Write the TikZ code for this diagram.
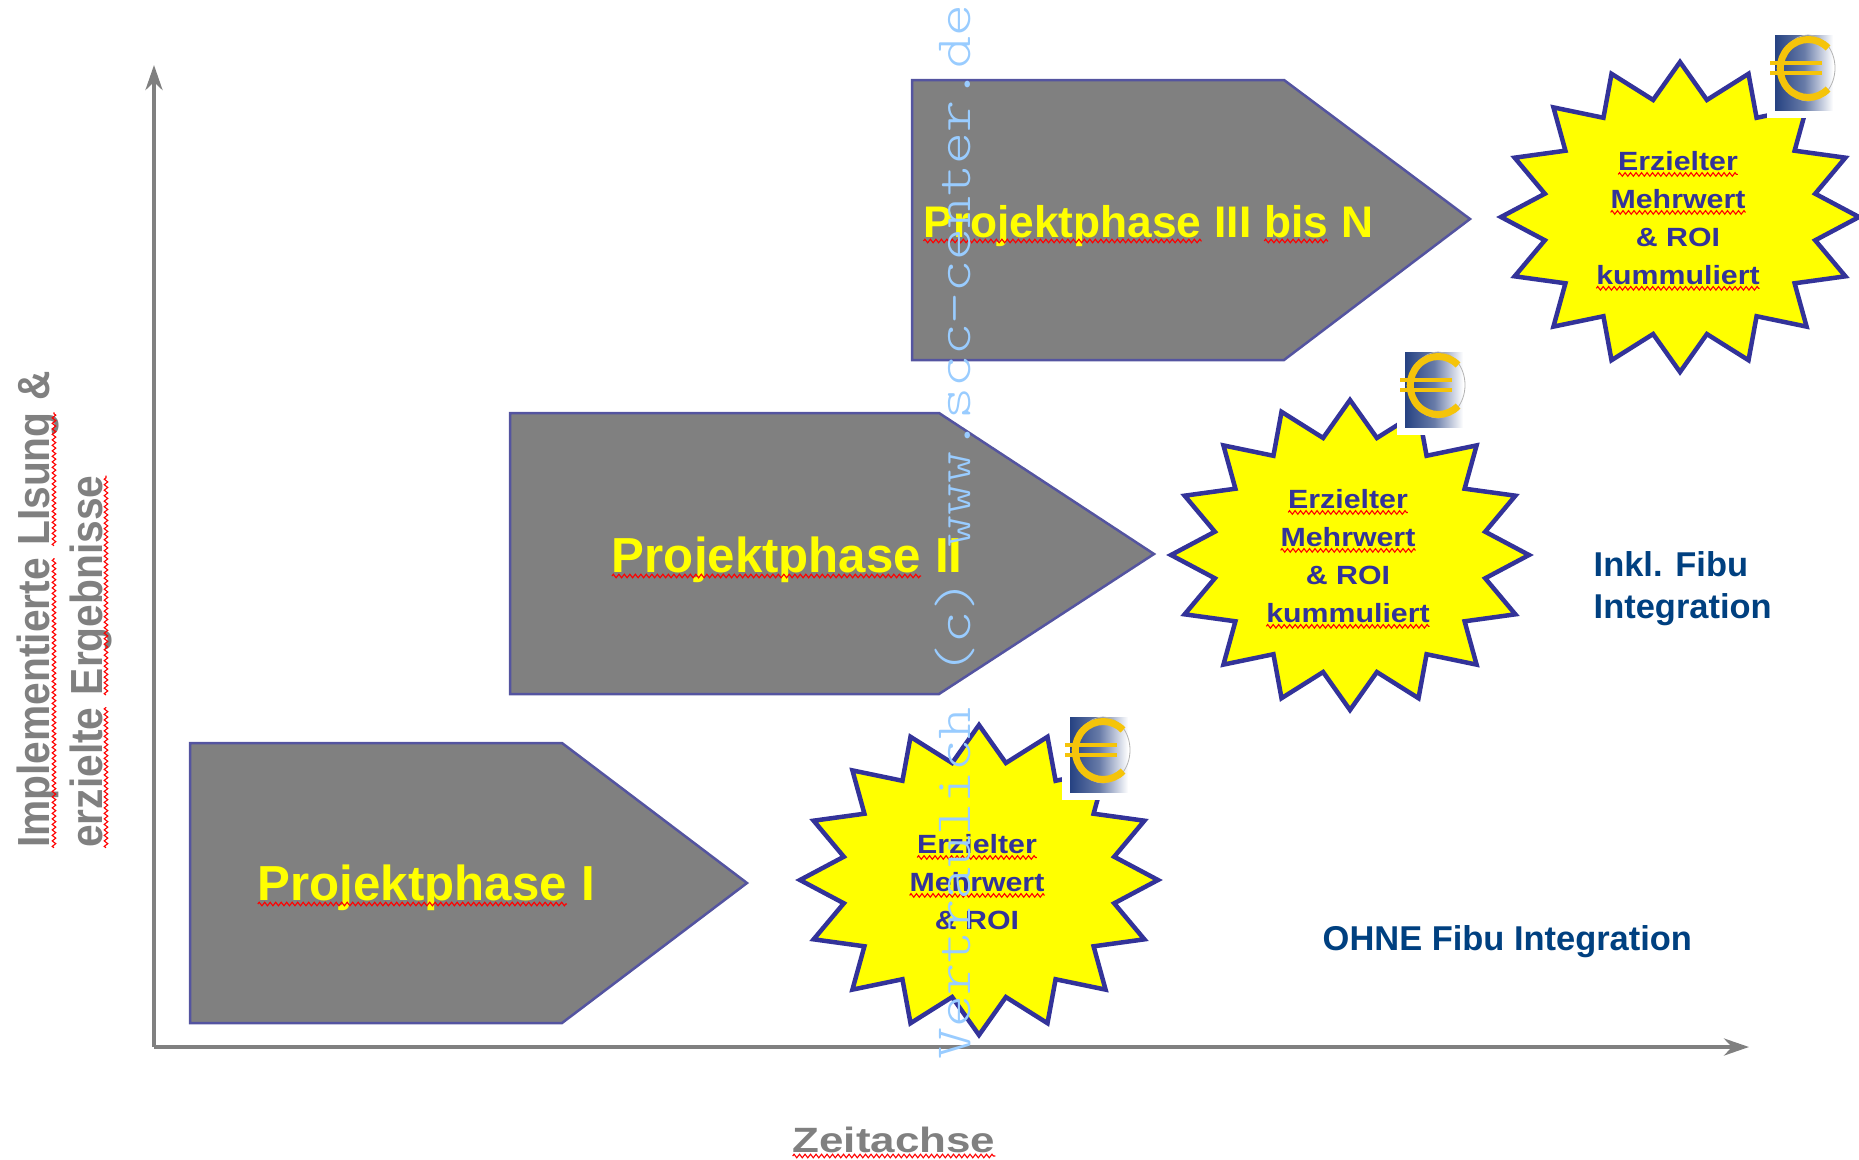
\documentclass[tikz,border=0pt]{standalone}
\usepackage{fontspec}
\setmainfont{Liberation Sans}
\newfontfamily\widefont[FakeStretch=1.15]{Liberation Sans}
\newfontfamily\axisfont[FakeStretch=1.25]{Liberation Sans}
\newfontfamily\uprightfont[FakeStretch=.905]{Liberation Sans}
\newfontfamily\markfont[FakeStretch=1.195]{Latin Modern Mono Light}
\usetikzlibrary{arrows.meta, decorations.pathmorphing}
\definecolor{phasegray}{RGB}{128,128,128}
\definecolor{burstyellow}{RGB}{255,255,0}
\definecolor{burstblue}{RGB}{51,51,153}
\definecolor{edgeblue}{RGB}{84,84,160}
\definecolor{notenavy}{RGB}{0,64,128}
\definecolor{markblue}{RGB}{153,204,255}
\definecolor{eurogold}{RGB}{245,196,10}
\definecolor{euronavy}{RGB}{38,66,130}

\tikzset{
    axisline/.style={draw=phasegray,line width=0.045cm,-{Stealth[length=0.25cm,width=0.17cm]}},
    phasebox/.style={fill=phasegray,draw=edgeblue,line width=0.025cm},
    phasetext/.style={burstyellow,anchor=base,font=\fontsize{14}{17}\selectfont\bfseries},
    burst/.style={fill=burstyellow,draw=burstblue,line width=0.045cm,miter limit=4},
    bursttext/.style={burstblue,align=center,font=\widefont\fontsize{7.5}{10.8}\selectfont\bfseries},
    axistext/.style={phasegray,anchor=base west,inner sep=0pt,rotate=90,font=\uprightfont\fontsize{12.8}{15}\selectfont\bfseries},
    notetext/.style={notenavy,anchor=base west,inner sep=0pt,font=\fontsize{9.8}{12}\selectfont\bfseries},
}

% red spell-check line under a word
\newcommand{\redwave}[1]{\tikz[baseline=(wv.base)]{\node[inner sep=0pt,outer sep=0pt] (wv) {#1};
    \draw[red,line width=0.011cm,decorate,decoration={zigzag,segment length=0.055cm,amplitude=0.018cm}]
    ([yshift=-0.04cm]wv.base west) -- ([yshift=-0.04cm]wv.base east);}}

% 16 pointed star around a centre
\newcommand{\burstat}[2]{\draw[burst,shift={(#1,#2)}] plot[samples at={0,...,31},variable=\k]
    ({1.79*(1-0.23*mod(\k,2))*cos(\k*11.25)},{1.55*(1-0.23*mod(\k,2))*sin(\k*11.25)}) -- cycle;}

% euro picture, the coordinates are its upper left corner
\newcommand{\euroat}[2]{\begin{scope}[shift={(#1,#2)}]
    \fill[white] (-0.08,0.1) rectangle (0.75,-0.83);
    \shade[left color=euronavy,right color=white,middle color=euronavy!70!white] (0,0) rectangle (0.58,-0.75);
    \draw[gray!60,line width=0.008cm] (0.33,-0.33) ellipse (0.27 and 0.33);
    \draw[eurogold,line width=0.07cm] (0.53,-0.13) arc[start angle=45,end angle=315,x radius=0.28,y radius=0.29];
    \draw[eurogold,line width=0.045cm] (-0.05,-0.28) -- (0.47,-0.28);
    \draw[eurogold,line width=0.045cm] (-0.05,-0.38) -- (0.47,-0.38);
\end{scope}}

\begin{document}
\begin{tikzpicture}
    \useasboundingbox (0,0) rectangle (18.59,11.59);

    % Achsen
    \coordinate (origin) at (1.54,1.12);
    \coordinate (timeend) at (17.49,1.12);
    \coordinate (resultend) at (1.54,10.94);
    \draw[axisline] (origin) -- (resultend);
    \draw[axisline] (origin) -- (timeend);
    \node[axistext] (resultlabela) at (0.50,3.10) {\redwave{Implementierte} \redwave{LIsung} \&};
    \node[axistext] (resultlabelb) at (1.02,3.10) {\redwave{erzielte} \redwave{Ergebnisse}};
    \node[phasegray,anchor=base,inner sep=0pt,font=\axisfont\fontsize{10}{12}\selectfont\bfseries] (timelabel) at (8.94,0.07) {\redwave{Zeitachse}};

    % Projektphase I
    \draw[phasebox] (1.90,4.16) -- (5.62,4.16) -- (7.47,2.76) -- (5.62,1.36) -- (1.90,1.36) -- cycle;
    \node[phasetext] (phaseone) at (4.26,2.59) {\redwave{Projektphase} I};

    % Projektphase II
    \draw[phasebox] (5.10,7.46) -- (9.39,7.46) -- (11.54,6.05) -- (9.39,4.65) -- (5.10,4.65) -- cycle;
    \node[phasetext] (phasetwo) at (7.87,5.87) {\redwave{Projektphase} II};

    % Projektphase III
    \draw[phasebox] (9.12,10.79) -- (12.84,10.79) -- (14.70,9.40) -- (12.84,7.99) -- (9.12,7.99) -- cycle;
    \node[phasetext,font=\fontsize{12.6}{15}\selectfont\bfseries] (phasethree) at (11.48,9.22) {\redwave{Projektphase} III \redwave{bis} N};

    % Mehrwert
    \burstat{9.79}{2.79}
    \euroat{10.70}{4.42}
    \node[bursttext] (burstone) at (9.77,2.77) {\redwave{Erzielter}\\\redwave{Mehrwert}\\\& ROI};

    \burstat{13.50}{6.04}
    \euroat{14.05}{8.07}
    \node[bursttext] (bursttwo) at (13.48,6.00) {\redwave{Erzielter}\\\redwave{Mehrwert}\\\& ROI\\\redwave{kummuliert}};

    \burstat{16.80}{9.42}
    \euroat{17.75}{11.24}
    \node[bursttext] (burstthree) at (16.78,9.38) {\redwave{Erzielter}\\\redwave{Mehrwert}\\\& ROI\\\redwave{kummuliert}};

    % Fibu
    \node[notetext] (noteinkl) at (15.93,5.83) {Inkl. Fibu};
    \node[notetext] (noteintegration) at (15.93,5.41) {Integration};
    \node[notetext] (noteohne) at (13.22,2.09) {OHNE Fibu Integration};

    % Wasserzeichen
    \node[markblue,anchor=base west,inner sep=0pt,rotate=90,font=\markfont\fontsize{14.5}{18}\selectfont] (watermark) at (9.70,0.99) {Vertraulich (c) www.scc-center.de};
\end{tikzpicture}
\end{document}
